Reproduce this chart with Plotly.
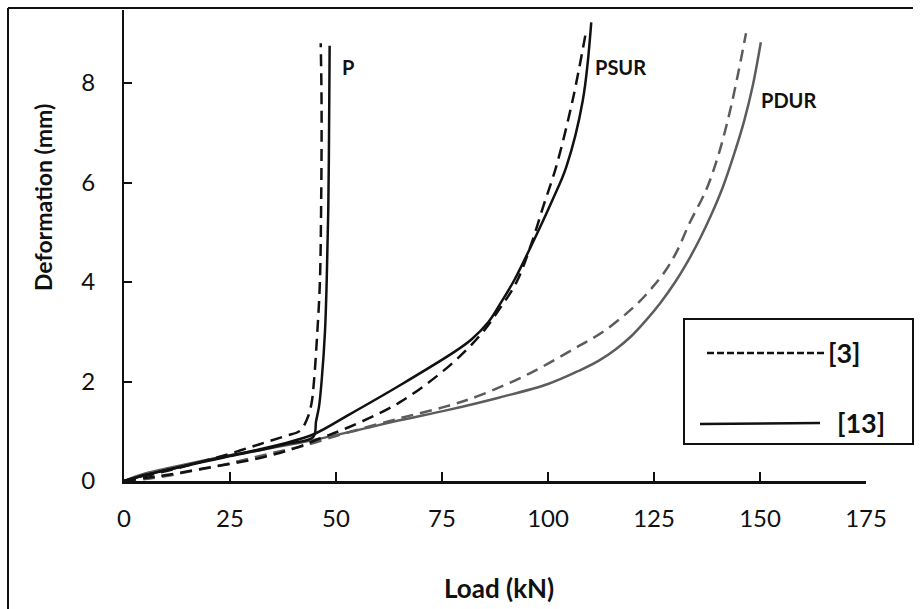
import plotly.graph_objects as go

# ---------------- data ----------------
p_load_ref3 = [0, 5, 10, 18, 25, 32, 38.3, 41.5, 43.2, 44.2, 44.8, 45.6, 46.2, 46.5, 46.6, 46.4]
p_def_ref3 = [0, 0.1, 0.2, 0.38, 0.55, 0.74, 0.91, 1.01, 1.25, 1.55, 2.0, 3.0, 4.0, 5.6, 7.5, 8.8]

p_load_ref13 = [0, 5, 10, 18, 25, 32, 38, 44.6, 45.3, 46.0, 46.6, 47.4, 47.8, 48.2, 48.4, 48.5]
p_def_ref13 = [0, 0.12, 0.22, 0.37, 0.5, 0.62, 0.74, 0.88, 1.2, 1.5, 2.0, 3.0, 4.0, 5.6, 7.5, 8.75]

psur_load_ref3 = [0, 5, 10, 18.6, 30.4, 40, 46, 53, 65, 76.8, 84.2, 88.5, 92.6, 96, 99, 101.9, 105.8, 109]
psur_def_ref3 = [0, 0.06, 0.12, 0.25, 0.43, 0.65, 0.85, 1.08, 1.58, 2.32, 2.95, 3.45, 4.0, 4.75, 5.55, 6.31, 7.65, 9.05]

psur_load_ref13 = [0, 5, 10, 20, 30, 38, 45, 53, 65, 78, 82, 86, 89, 92, 96, 101, 104.3, 108.2, 110.2]
psur_def_ref13 = [0, 0.12, 0.22, 0.42, 0.6, 0.76, 0.95, 1.33, 1.92, 2.6, 2.85, 3.2, 3.6, 4.03, 4.72, 5.64, 6.31, 7.65, 9.22]

pdur_load_ref3 = [0, 5, 10, 14.8, 22.6, 34.4, 42, 53, 65, 76, 83.9, 95.6, 107.4, 113, 118.4, 121.5, 124.5, 127.5, 130.3, 133.3, 137.3, 140, 142.4, 144.5, 146.7]
pdur_def_ref3 = [0, 0.04, 0.1, 0.18, 0.31, 0.55, 0.7, 0.98, 1.26, 1.5, 1.72, 2.16, 2.72, 3.0, 3.36, 3.6, 3.88, 4.2, 4.6, 5.17, 5.85, 6.5, 7.25, 8.05, 9.0]

pdur_load_ref13 = [0, 5, 10, 22.6, 34.4, 45, 55, 65, 76, 88.6, 100, 107.4, 112, 116, 119.5, 123, 126.5, 130, 133, 136, 138.5, 141.2, 144, 146.3, 148.3, 150.2]
pdur_def_ref13 = [0, 0.15, 0.25, 0.48, 0.66, 0.83, 1.02, 1.22, 1.42, 1.68, 1.95, 2.22, 2.42, 2.65, 2.9, 3.22, 3.58, 4.0, 4.42, 4.9, 5.35, 5.9, 6.6, 7.25, 7.95, 8.82]

x_ticks = [0, 25, 50, 75, 100, 125, 150, 175]
y_ticks = [0, 2, 4, 6, 8]
curve_labels = ["P", "PSUR", "PDUR"]
legend_labels = ["[3]", "[13]"]

# ---------------- layout geometry ----------------
W, H = 921, 609
ML, MR, MT, MB = 124, 55, 10, 128
PW, PH = W - ML - MR, H - MT - MB


def px(x):
    return (x - ML) / PW


def py(y):
    return (H - MB - y) / PH


FONT = "Lato, 'Open Sans', sans-serif"
BLACK = "#111111"
GRAY = "#5c5c5c"
DASH = "12px,7px"

fig = go.Figure()


def add(x, y, color, dash):
    fig.add_trace(go.Scatter(
        x=x, y=y, mode="lines",
        line=dict(color=color, width=2.5, dash=dash, shape="spline", smoothing=1.0),
        showlegend=False, hoverinfo="skip"))


add(pdur_load_ref3, pdur_def_ref3, GRAY, DASH)
add(pdur_load_ref13, pdur_def_ref13, GRAY, "solid")
add(psur_load_ref3, psur_def_ref3, BLACK, DASH)
add(psur_load_ref13, psur_def_ref13, BLACK, "solid")
add(p_load_ref3, p_def_ref3, BLACK, DASH)
add(p_load_ref13, p_def_ref13, BLACK, "solid")


def note(x, y, text, size, xref="paper", yref="paper", angle=0):
    fig.add_annotation(x=x, y=y, xref=xref, yref=yref, text=text, showarrow=False,
                       xanchor="center", yanchor="middle", textangle=angle,
                       font=dict(family=FONT, size=size, color=BLACK))


# curve labels
label_pos = [(52.8, 8.33), (117.2, 8.33), (156.7, 7.66)]
for txt, (lx, ly) in zip(curve_labels, label_pos):
    note(lx, ly, f"<b>{txt}</b>", 20, "x", "y")

# axis titles
note(px(499), py(588), "<b>Load (kN)</b>", 26)
note(px(43), py(198), "<b>Deformation (mm)</b>", 23, angle=-90)

# outer frame (left and top)
fig.add_shape(type="line", xref="paper", yref="paper", x0=px(8), x1=px(8), y0=py(8), y1=py(612),
              line=dict(color=BLACK, width=2))
fig.add_shape(type="line", xref="paper", yref="paper", x0=px(8), x1=px(913), y0=py(8), y1=py(8),
              line=dict(color=BLACK, width=2))

# legend box
fig.add_shape(type="rect", xref="paper", yref="paper", x0=px(684), x1=px(913), y0=py(319), y1=py(444),
              line=dict(color=BLACK, width=2), fillcolor="white", layer="above")
fig.add_shape(type="line", xref="paper", yref="paper", x0=px(707), x1=px(825), y0=py(353), y1=py(353),
              line=dict(color=BLACK, width=2.5, dash="7px,3px"), layer="above")
fig.add_shape(type="line", xref="paper", yref="paper", x0=px(700), x1=px(820), y0=py(424), y1=py(423),
              line=dict(color=BLACK, width=2.5), layer="above")
note(px(844), py(352), f"<b>{legend_labels[0]}</b>", 27)
note(px(861), py(422), f"<b>{legend_labels[1]}</b>", 27)

fig.update_layout(
    width=W, height=H,
    margin=dict(l=ML, r=MR, t=MT, b=MB, pad=0),
    paper_bgcolor="white", plot_bgcolor="white",
    showlegend=False,
    xaxis=dict(range=[0, 175], tickvals=x_ticks, ticktext=[str(v) for v in x_ticks],
               showgrid=False, zeroline=False, showline=True, linecolor=BLACK, linewidth=2.5,
               ticks="inside", ticklen=9, tickwidth=2, tickcolor=BLACK,
               tickfont=dict(family=FONT, size=24, color=BLACK), ticklabelstandoff=14),
    yaxis=dict(range=[0, PH / 49.75], tickvals=y_ticks, ticktext=[str(v) for v in y_ticks],
               showgrid=False, zeroline=False, showline=True, linecolor=BLACK, linewidth=2,
               ticks="inside", ticklen=8, tickwidth=2, tickcolor=BLACK,
               tickfont=dict(family=FONT, size=24, color=BLACK), ticklabelstandoff=22),
)

fig.write_html("out.html")
